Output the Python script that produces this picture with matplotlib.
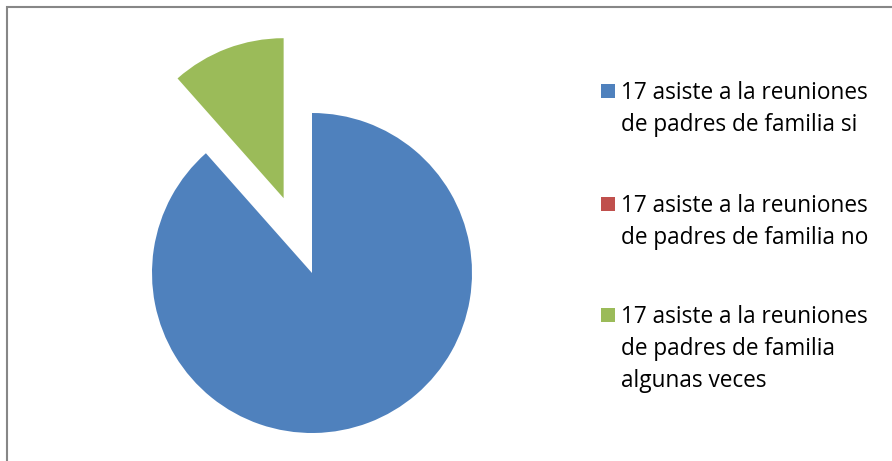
import matplotlib
matplotlib.use("Agg")
import matplotlib.pyplot as plt
from matplotlib.patches import Rectangle

labels = [
    "17 asiste a la reuniones\nde padres de familia si",
    "17 asiste a la reuniones\nde padres de familia no",
    "17 asiste a la reuniones\nde padres de familia\nalgunas veces",
]
values = [23, 0, 3]
colors = ["#4F81BD", "#C0504D", "#9BBB59"]
explode = [0, 0, 0.5]

W, H = 892, 461
fig = plt.figure(figsize=(W / 100, H / 100), dpi=100)
fig.patch.set_facecolor("white")
ax = fig.add_axes([0, 0, 1, 1])

ax.pie(values, colors=colors, explode=explode, startangle=90,
       counterclock=False, wedgeprops=dict(linewidth=0))

cx, cy, r = 312, 461 - 273, 160
ax.set_aspect("auto")
ax.set_xlim(-cx / r, (W - cx) / r)
ax.set_ylim(-cy / r, (H - cy) / r)
ax.axis("off")

# chart border
fig.add_artist(Rectangle((6.5 / W, -0.2), 2.0, (H - 6.5) / H + 0.2,
                         transform=fig.transFigure, facecolor="none",
                         edgecolor="#878787", linewidth=1.5))

# legend
baselines = [99, 212, 323]
line_gap = 32
for lab, col, b in zip(labels, colors, baselines):
    fig.add_artist(Rectangle((601 / W, (H - b + 1) / H), 14 / W, 14 / H,
                             transform=fig.transFigure, facecolor=col,
                             edgecolor="none"))
    for i, line in enumerate(lab.split("\n")):
        fig.text(621 / W, (H - b - i * line_gap) / H, line, fontsize=16.3,
                 family="Open Sans", va="baseline", ha="left",
                 color="#000000")

fig.savefig("out.png", dpi=100)
